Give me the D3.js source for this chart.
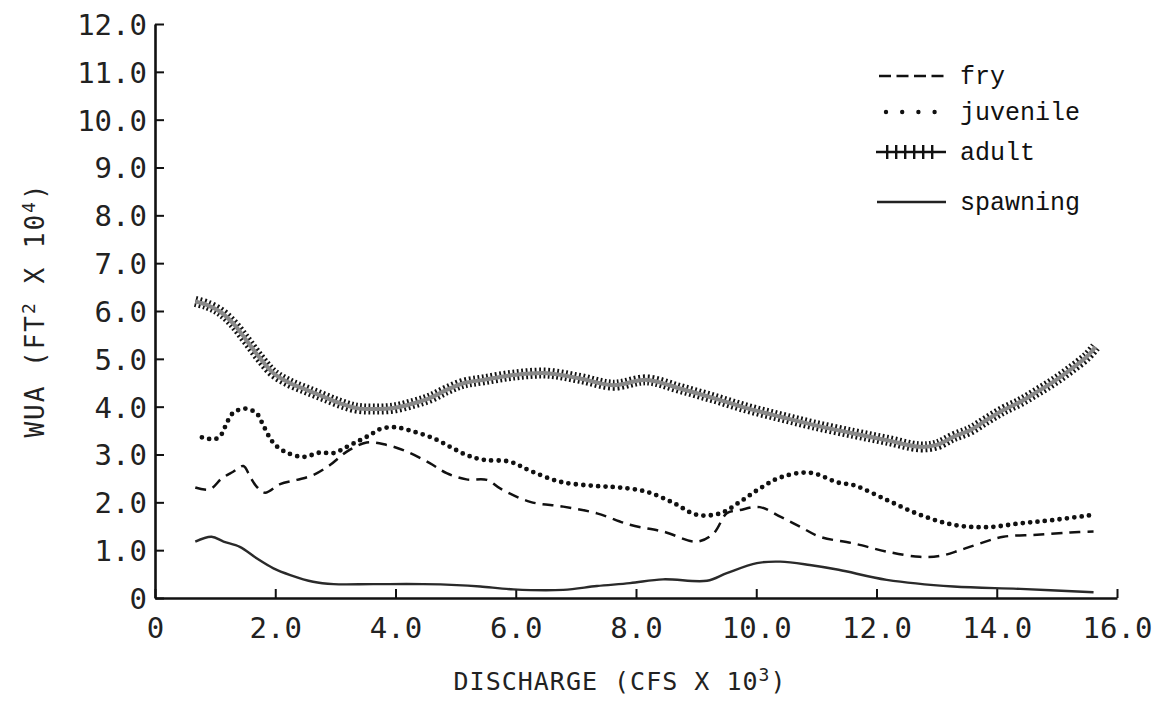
<!DOCTYPE html>
<html>
<head>
<meta charset="utf-8">
<script src="https://cdn.jsdelivr.net/npm/d3@7"></script>
<style>
  body { margin: 0; background: #fff; }
  svg { display: block; }
</style>
</head>
<body>
<div id="chart"></div>
<script>
// --- Data: [discharge (cfs x 10^3), WUA (ft^2 x 10^4)] ---
const fry = [
  [0.67, 2.31], [0.91, 2.27], [1.11, 2.50], [1.30, 2.64], [1.47, 2.76], [1.58, 2.54],
  [1.69, 2.33], [1.83, 2.20], [2.08, 2.38], [2.36, 2.47], [2.63, 2.57], [2.91, 2.78],
  [3.19, 3.06], [3.52, 3.25], [3.85, 3.20], [4.19, 3.06], [4.57, 2.82], [4.85, 2.61],
  [5.18, 2.48], [5.52, 2.47], [5.74, 2.29], [6.24, 2.01], [6.79, 1.91], [7.35, 1.77],
  [7.90, 1.53], [8.45, 1.39], [9.01, 1.18], [9.29, 1.35], [9.51, 1.77], [9.73, 1.84],
  [10.06, 1.90], [10.40, 1.70], [10.73, 1.49], [11.06, 1.28], [11.62, 1.14], [12.17, 0.97],
  [12.72, 0.86], [13.06, 0.88], [13.39, 1.00], [13.72, 1.14], [14.11, 1.28], [14.67, 1.32],
  [15.22, 1.37], [15.61, 1.39]
];

const juvenile = [
  [0.78, 3.36], [1.00, 3.32], [1.11, 3.43], [1.19, 3.65], [1.30, 3.87], [1.50, 3.96],
  [1.69, 3.86], [1.79, 3.64], [1.90, 3.37], [2.00, 3.20], [2.19, 3.04], [2.47, 2.95],
  [2.74, 3.04], [2.97, 3.03], [3.19, 3.16], [3.41, 3.30], [3.58, 3.41], [3.74, 3.53],
  [3.99, 3.57], [4.30, 3.48], [4.63, 3.34], [4.91, 3.16], [5.18, 2.99], [5.46, 2.89],
  [5.90, 2.85], [6.24, 2.66], [6.74, 2.43], [7.35, 2.34], [7.73, 2.31], [8.18, 2.22],
  [8.62, 1.99], [9.01, 1.74], [9.40, 1.77], [9.73, 2.01], [10.06, 2.29], [10.40, 2.52],
  [10.89, 2.62], [11.37, 2.41], [11.62, 2.36], [12.17, 2.05], [12.72, 1.74], [13.28, 1.53],
  [13.83, 1.48], [14.39, 1.56], [14.94, 1.63], [15.61, 1.74]
];

const adult = [
  [0.67, 6.20], [0.86, 6.13], [1.08, 5.99], [1.30, 5.74], [1.52, 5.39], [1.75, 5.01],
  [1.97, 4.70], [2.25, 4.49], [2.52, 4.35], [2.80, 4.21], [3.08, 4.07], [3.35, 3.97],
  [3.63, 3.95], [3.96, 3.97], [4.30, 4.07], [4.57, 4.18], [4.85, 4.35], [5.13, 4.49],
  [5.46, 4.56], [5.96, 4.66], [6.52, 4.70], [7.07, 4.59], [7.62, 4.45], [8.18, 4.56],
  [8.73, 4.38], [9.29, 4.18], [9.84, 3.97], [10.40, 3.79], [10.95, 3.62], [11.62, 3.44],
  [12.17, 3.30], [12.72, 3.16], [13.00, 3.20], [13.28, 3.37], [13.56, 3.51], [13.83, 3.72],
  [14.11, 3.93], [14.39, 4.10], [14.67, 4.31], [14.94, 4.52], [15.22, 4.77], [15.50, 5.05],
  [15.64, 5.25]
];

const spawning = [
  [0.67, 1.18], [0.94, 1.28], [1.14, 1.18], [1.41, 1.07], [1.69, 0.83], [1.97, 0.62],
  [2.25, 0.48], [2.63, 0.34], [2.97, 0.29], [3.63, 0.29], [4.46, 0.29], [5.02, 0.27],
  [5.41, 0.24], [5.96, 0.18], [6.79, 0.17], [7.35, 0.25], [7.90, 0.31], [8.45, 0.39],
  [9.18, 0.36], [9.51, 0.52], [10.01, 0.73], [10.40, 0.76], [10.89, 0.69], [11.37, 0.59],
  [12.17, 0.38], [13.28, 0.24], [14.39, 0.19], [15.61, 0.12]
];

const xTicks = [0, 2, 4, 6, 8, 10, 12, 14, 16];
const yTicks = [0, 1, 2, 3, 4, 5, 6, 7, 8, 9, 10, 11, 12];
const seriesNames = ["fry", "juvenile", "adult", "spawning"];

// --------------------------
// CHART DIMENSIONS
// --------------------------
const width = 1160;
const height = 709;
const plot = { left: 155, right: 1117, top: 24, bottom: 598 };

const svg = d3.select("#chart")
  .append("svg")
  .attr("width", width)
  .attr("height", height);

const x = d3.scaleLinear().domain([0, 16]).range([plot.left, plot.right]);
const y = d3.scaleLinear().domain([0, 12]).range([plot.bottom, plot.top]);

const fmt = d => d === 0 ? "0" : d.toFixed(1);
const tickFont = "'DejaVu Sans Mono', monospace";

// Axes (ticks point inward)
const xAxis = svg.append("g")
  .attr("transform", `translate(0, ${plot.bottom})`)
  .call(d3.axisBottom(x).tickValues(xTicks).tickFormat(fmt)
    .tickSizeInner(-9).tickSizeOuter(0).tickPadding(19));

const yAxis = svg.append("g")
  .attr("transform", `translate(${plot.left}, 0)`)
  .call(d3.axisLeft(y).tickValues(yTicks).tickFormat(fmt)
    .tickSizeInner(-9).tickSizeOuter(0).tickPadding(8));

[xAxis, yAxis].forEach(g => {
  g.select(".domain").attr("stroke", "#111").attr("stroke-width", 2.6);
  g.selectAll(".tick line").attr("stroke", "#111").attr("stroke-width", 2);
  g.selectAll(".tick text")
    .attr("fill", "#222")
    .style("font-family", tickFont)
    .style("font-size", "29px");
});
yAxis.selectAll(".tick text").attr("dy", "0.36em");

// Axis titles
svg.append("text")
  .attr("x", 620)
  .attr("y", 690)
  .attr("text-anchor", "middle")
  .attr("fill", "#222")
  .style("font-family", tickFont)
  .style("font-size", "25px")
  .style("letter-spacing", "1px")
  .html('DISCHARGE (CFS X 10<tspan dy="-9" font-size="18">3</tspan><tspan dy="9">)</tspan>');

svg.append("text")
  .attr("transform", "translate(44, 310) rotate(-90)")
  .attr("text-anchor", "middle")
  .attr("fill", "#222")
  .style("font-family", tickFont)
  .style("font-size", "26px")
  .style("letter-spacing", "2px")
  .html('WUA (FT<tspan dy="-9" font-size="18">2</tspan><tspan dy="9"> X 10</tspan><tspan dy="-9" font-size="18">4</tspan><tspan dy="9">)</tspan>');

// --------------------------
// LINES
// --------------------------
const line = d3.line()
  .x(d => x(d[0]))
  .y(d => y(d[1]))
  .curve(d3.curveCatmullRom.alpha(0.5));

const lines = svg.append("g").attr("fill", "none");

function drawSeries(g, name, d) {
  if (name === "fry") {
    g.append("path").attr("d", d)
      .attr("stroke", "#111").attr("stroke-width", 2.5)
      .attr("stroke-dasharray", "11 7");
  } else if (name === "juvenile") {
    g.append("path").attr("d", d)
      .attr("stroke", "#111").attr("stroke-width", 4.8)
      .attr("stroke-linecap", "round")
      .attr("stroke-dasharray", "0 7.4");
  } else if (name === "adult") {
    g.append("path").attr("d", d)
      .attr("stroke", "#111").attr("stroke-width", 11)
      .attr("stroke-dasharray", "1.8 2.6");
    g.append("path").attr("d", d)
      .attr("stroke", "#8a8a8a").attr("stroke-width", 4);
  } else {
    g.append("path").attr("d", d)
      .attr("stroke", "#2a2a2a").attr("stroke-width", 2.4);
  }
}

const seriesData = { fry, juvenile, adult, spawning };
seriesNames.forEach(name => drawSeries(lines, name, line(seriesData[name])));

// --------------------------
// LEGEND
// --------------------------
const legendY = [76, 112, 152, 202];
const legend = svg.append("g").attr("fill", "none");

seriesNames.forEach((name, i) => {
  const ly = legendY[i];
  if (name === "fry") {
    legend.append("path").attr("d", `M879,${ly}H944`)
      .attr("stroke", "#111").attr("stroke-width", 2.4)
      .attr("stroke-dasharray", "12 5.5");
  } else if (name === "juvenile") {
    legend.append("path").attr("d", `M886,${ly}H936`)
      .attr("stroke", "#111").attr("stroke-width", 4.4)
      .attr("stroke-linecap", "round")
      .attr("stroke-dasharray", "0 16.2");
  } else if (name === "adult") {
    legend.append("path").attr("d", `M876,${ly}H946`)
      .attr("stroke", "#111").attr("stroke-width", 2.4);
    legend.append("path").attr("d", `M886,${ly}H938`)
      .attr("stroke", "#111").attr("stroke-width", 14)
      .attr("stroke-dasharray", "2.4 6.6");
  } else {
    legend.append("path").attr("d", `M877,${ly}H946`)
      .attr("stroke", "#222").attr("stroke-width", 2.4);
  }
  legend.append("text")
    .attr("x", 960)
    .attr("y", ly + 8)
    .attr("fill", "#111")
    .style("font-family", "'Liberation Mono', 'Courier New', monospace")
    .style("font-size", "25px")
    .text(name);
});
</script>
</body>
</html>
